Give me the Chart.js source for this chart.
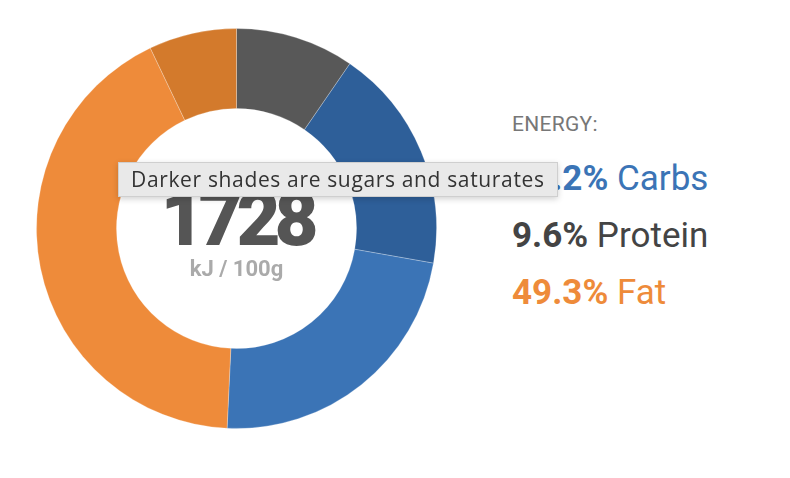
<!DOCTYPE html>
<html>
<head>
<meta charset="utf-8">
<script src="https://cdn.jsdelivr.net/npm/chart.js@4"></script>
<style>
    html, body { margin: 0; padding: 0; background: #fff; }
    body { width: 790px; height: 478px; position: relative; overflow: hidden; font-family: Roboto, "Open Sans", sans-serif; }
    .donut-wrap { position: absolute; left: 36px; top: 28px; width: 401px; height: 401px; }
    .center { position: absolute; left: 36px; top: 28px; width: 401px; height: 401px; text-align: center; pointer-events: none; }
    .kj { position: absolute; left: 0; right: 0; top: 153px; font-size: 76px; font-weight: 900; color: #555; letter-spacing: -6px; line-height: 1; }
    .unit { position: absolute; left: 0; right: 0; top: 230px; font-size: 22px; font-weight: 700; color: #aaa; line-height: 1; }
    .legend { position: absolute; left: 512px; top: 112px; }
    .legend .title { font-size: 21px; color: #777; margin-bottom: 25px; letter-spacing: 0.3px; }
    .legend .row { font-size: 35px; line-height: 1; margin-bottom: 22px; }
    .legend .row b { font-weight: 700; }
    .tip { position: absolute; left: 118px; top: 162px; width: 440px; height: 35px; box-sizing: border-box;
           background: #e9e9e9; border: 1px solid #cfcfcf; box-shadow: 0 2px 6px rgba(0,0,0,0.18);
           font-family: "Open Sans", sans-serif; font-size: 21px; letter-spacing: 0.65px; color: #333; line-height: 32px; padding-left: 12px; white-space: nowrap; }
</style>
</head>
<body>
<div class="donut-wrap"><canvas id="chartDonut"></canvas></div>
<div class="center">
    <div class="kj" id="kj"></div>
    <div class="unit">kJ / 100g</div>
</div>
<div class="legend" id="legend"></div>
<div class="tip">Darker shades are sugars and saturates</div>

<script>
// ===== data (percent of energy)
const segmentLabels = ["Protein", "Sugars", "Carbs (other)", "Fat (other)", "Saturates"];
const segmentValues = [9.6, 18.2, 23.0, 42.2, 7.1];
const segmentColors = ["#585858", "#2e5f99", "#3b74b6", "#ee8b3a", "#d37a2c"];

const energyKj = 1728;
const legendLabels = ["Carbs", "Protein", "Fat"];
const legendValues = [41.2, 9.6, 49.3];
const legendColors = ["#3b74b6", "#444444", "#ee8b3a"];

document.getElementById("kj").textContent = energyKj;

// legend on the right
const legendEl = document.getElementById("legend");
legendEl.innerHTML =
    '<div class="title">ENERGY:</div>' +
    legendLabels
        .map((l, i) => `<div class="row" style="color:${legendColors[i]}"><b>${legendValues[i]}%</b> ${l}</div>`)
        .join("");

new Chart(document.getElementById("chartDonut"), {
    type: "doughnut",
    data: {
        labels: segmentLabels,
        datasets: [
            {
                data: segmentValues,
                backgroundColor: segmentColors,
                borderColor: "rgba(255,255,255,0.25)",
                borderWidth: 1,
            },
        ],
    },
    options: {
        responsive: true,
        maintainAspectRatio: false,
        animation: false,
        cutout: "60%",
        layout: { padding: 0 },
        plugins: { legend: { display: false }, tooltip: { enabled: false } },
    },
});
</script>
</body>
</html>
